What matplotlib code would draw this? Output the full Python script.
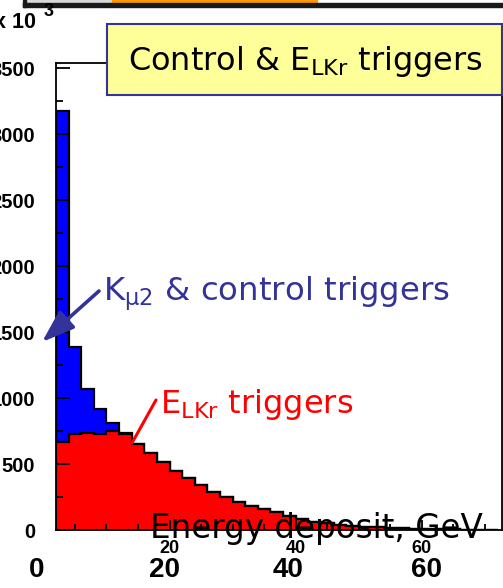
import numpy as np
import matplotlib
matplotlib.use("Agg")
import matplotlib.pyplot as plt
from matplotlib.patches import Rectangle
from matplotlib.ticker import MultipleLocator

W, H = 503, 588

# histogram bins in GeV (2 GeV wide), counts in units of 10^3
bin_edges = np.arange(2, 74, 2)
elkr_counts = [669, 725, 735, 725, 752, 725, 652, 583, 515, 449, 394, 341,
               290, 252, 214, 182, 157, 135, 106, 81, 63, 51, 38, 30, 25,
               20, 15, 12, 9, 7, 5, 4, 3, 2, 1]
control_counts = [3174, 1389, 1066, 915, 810, 735, 652, 583, 515, 449, 394,
                  341, 290, 252, 214, 182, 157, 135, 106, 81, 63, 51, 38, 30,
                  25, 20, 15, 12, 9, 7, 5, 4, 3, 2, 1]

y_ticks = [0, 500, 1000, 1500, 2000, 2500, 3000, 3500]
x_ticks = [20, 40, 60]
overlay_labels = ["0", "20", "40", "60"]


def px(x, y):
    # pixel position in the picture -> figure fraction
    return x / W, 1 - y / H


fig = plt.figure(figsize=(W / 100, H / 100), dpi=100)
ax = fig.add_axes([56 / W, (H - 530) / H, (502 - 56) / W, (530 - 63) / H])

ax.stairs(control_counts, bin_edges, fill=True, color="#0000ff")
ax.stairs(control_counts, bin_edges, color="black", lw=1.6)
ax.stairs(elkr_counts, bin_edges, fill=True, color="#ff0000")
ax.stairs(elkr_counts, bin_edges, color="black", lw=1.6)

ax.set_xlim(2, 72.7)
ax.set_ylim(0, 3540)
ax.set_yticks(y_ticks)
ax.yaxis.set_minor_locator(MultipleLocator(250))
ax.set_xticks(x_ticks)
ax.xaxis.set_minor_locator(MultipleLocator(5))
ax.tick_params(axis="both", which="both", direction="in", width=1.3)
ax.tick_params(axis="y", which="major", length=10, pad=15,
               labelsize=14.5)
ax.tick_params(axis="y", which="minor", length=5)
ax.tick_params(axis="x", which="major", length=7, pad=7, labelsize=13)
ax.tick_params(axis="x", which="minor", length=4)
for lab in ax.get_xticklabels() + ax.get_yticklabels():
    lab.set_fontweight("bold")
    lab.set_family("Liberation Sans")
for s in ax.spines.values():
    s.set_linewidth(1.3)

# scale factor label
fig.text(*px(36, 28), "x 10", ha="right", va="baseline", fontsize=15.5,
         fontweight="bold", family="Liberation Sans")
fig.text(*px(44, 16), "3", ha="left", va="baseline", fontsize=13,
         fontweight="bold", family="Liberation Sans")

# slide decoration along the top edge
fig.patches.append(Rectangle(px(26, 3), (112 - 26) / W, 3 / H,
                             transform=fig.transFigure, color="#d8d8d8"))
fig.patches.append(Rectangle(px(112, 3), (317 - 112) / W, 3 / H,
                             transform=fig.transFigure, color="#ff9900"))
fig.patches.append(Rectangle(px(23, 7), (W - 23) / W, 4 / H,
                             transform=fig.transFigure, color="#1a1a1a"))
fig.patches.append(Rectangle(px(23, 7), 3 / W, 7 / H,
                             transform=fig.transFigure, color="#1a1a1a"))

# boxed title
fig.patches.append(Rectangle(px(107, 95), (502 - 107) / W, (95 - 24) / H,
                             transform=fig.transFigure, facecolor="#ffff99",
                             edgecolor="#333399", lw=1.5, zorder=5))
fig.text(*px(128, 70), r"Control & E$_{\mathregular{LKr}}$ triggers",
         fontsize=23, va="baseline", zorder=6)

# annotations
fig.text(*px(103, 301), r"K$_{\mathregular{\mu 2}}$ & control triggers",
         fontsize=23.3, color="#333399", va="baseline")
ax.annotate("", xy=px(42, 342), xytext=px(99, 291),
            xycoords="figure fraction", textcoords="figure fraction",
            arrowprops=dict(arrowstyle="-|>,head_length=1.0,head_width=0.35",
                            mutation_scale=20, lw=2.6, color="#333399",
                            shrinkA=0, shrinkB=0),
            annotation_clip=False)

fig.text(*px(160, 413), r"E$_{\mathregular{LKr}}$ triggers",
         fontsize=23, color="red", va="baseline")
ax.annotate("", xy=px(132, 443), xytext=px(156, 400),
            xycoords="figure fraction", textcoords="figure fraction",
            arrowprops=dict(arrowstyle="-", lw=2.2, color="red",
                            shrinkA=0, shrinkB=0),
            annotation_clip=False)

fig.text(*px(150, 538), "Energy deposit, GeV", fontsize=23.5,
         va="baseline", color="black")

# larger axis numbers pasted under the plot
for lab, xc in zip(overlay_labels, [37, 165, 288, 426]):
    fig.text(*px(xc, 577), lab, ha="center", va="baseline", fontsize=20,
             fontweight="bold", family="Liberation Sans")

fig.savefig("out.png", dpi=100)
